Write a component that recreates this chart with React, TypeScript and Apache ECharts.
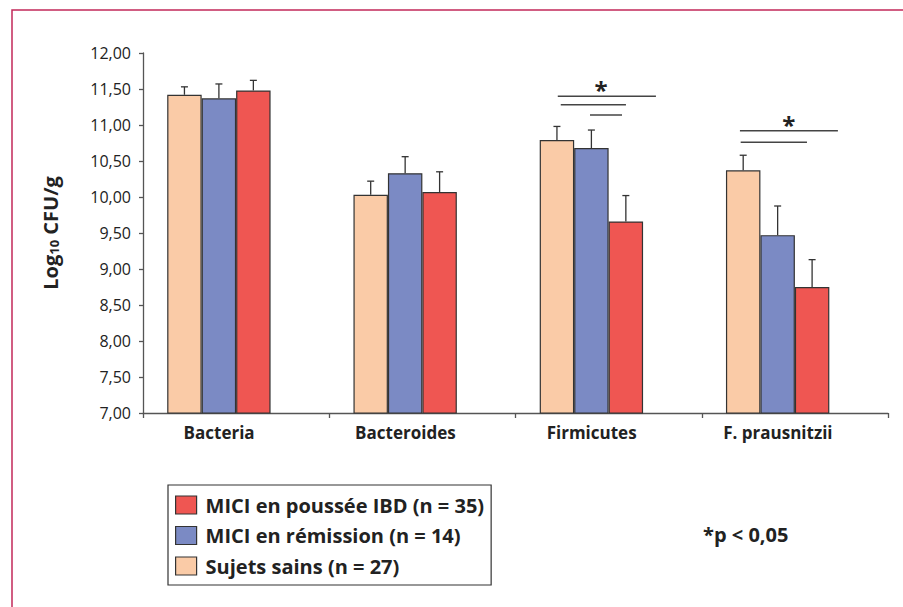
import React, { useEffect, useRef } from "react";
import * as echarts from "echarts";

const categories = ["Bacteria", "Bacteroides", "Firmicutes", "F. prausnitzii"];
const seriesNames = ["Sujets sains (n = 27)", "MICI en rémission (n = 14)", "MICI en poussée IBD (n = 35)"];
const legendOrder = ["MICI en poussée IBD (n = 35)", "MICI en rémission (n = 14)", "Sujets sains (n = 27)"];
const sainsMean = [11.42, 10.03, 10.79, 10.37];
const sainsUpper = [11.53, 10.22, 10.98, 10.58];
const remissionMean = [11.37, 10.33, 10.68, 9.47];
const remissionUpper = [11.57, 10.56, 10.93, 9.875];
const pousseeMean = [11.48, 10.07, 9.66, 8.75];
const pousseeUpper = [11.62, 10.35, 10.02, 9.13];
const yMin = 7;
const yMax = 12;
const yInterval = 0.5;
// significance brackets: [category index, y value, start (band fraction), end (band fraction)]
const sigLines = [
  [2, 11.4, -0.273, 0.254],
  [2, 11.28, -0.257, 0.093],
  [2, 11.14, -0.1, 0.072],
  [3, 10.92, -0.295, 0.231],
  [3, 10.76, -0.291, 0.065],
];
// stars: [category index, y value, x (band fraction)]
const sigStars = [
  [2, 11.56, -0.041],
  [3, 11.07, -0.033],
];
const pNote = "*p < 0,05";

const colors = ["#FACBA7", "#7B8AC4", "#EF5652"];
const FONT = "'Open Sans', 'Noto Sans', sans-serif";
const BAR_FRAC = 0.185;

export default function App() {
  const ref = useRef<HTMLDivElement>(null);
  useEffect(() => {
    document.body.style.margin = "0";
    const chart = echarts.init(ref.current!, null, { renderer: "svg" });
    const means = [sainsMean, remissionMean, pousseeMean];
    const uppers = [sainsUpper, remissionUpper, pousseeUpper];
    const errData: number[][] = [];
    means.forEach((m, s) => m.forEach((v, i) => errData.push([i, uppers[s][i], v, s])));

    const barSeries: any[] = seriesNames.map((name, s) => ({
      type: "bar",
      name,
      data: means[s],
      barWidth: BAR_FRAC * 100 + "%",
      barGap: "0%",
      itemStyle: { color: colors[s], borderColor: "#333", borderWidth: 1.2 },
      z: 2,
    }));
    barSeries.push({
      type: "bar",
      name: "_pad",
      data: categories.map(() => "-"),
      barWidth: BAR_FRAC * 100 + "%",
      barGap: "0%",
    });

    chart.setOption({
      animation: false,
      grid: { left: 143, top: 53, right: 15, bottom: 194, containLabel: false },
      legend: {
        data: legendOrder,
        orient: "vertical",
        left: 168,
        top: 485,
        padding: [10, 7, 9, 7],
        borderColor: "#333",
        borderWidth: 1.2,
        itemWidth: 21,
        itemHeight: 18,
        itemGap: 10.5,
        icon: "rect",
        selectedMode: false,
        itemStyle: { borderColor: "#333", borderWidth: 1.2 },
        textStyle: { fontFamily: FONT, fontSize: 20, fontWeight: "bold", color: "#222", padding: [0, 0, 0, 4] },
      },
      xAxis: {
        type: "category",
        data: categories,
        axisLine: { lineStyle: { color: "#555", width: 1.3 } },
        axisTick: { show: true, length: 5, lineStyle: { color: "#555", width: 1.3 } },
        axisLabel: {
          fontFamily: FONT,
          fontSize: 17,
          fontWeight: "bold",
          color: "#222",
          margin: 11,
          padding: [0, 34, 0, 0],
        },
      },
      yAxis: {
        type: "value",
        min: yMin,
        max: yMax,
        interval: yInterval,
        name: "{b|Log}{s|10}{b| CFU/g}",
        nameLocation: "middle",
        nameRotate: 90,
        nameGap: 83,
        nameTextStyle: {
          rich: {
            b: { fontFamily: FONT, fontSize: 20, fontWeight: "bold", color: "#222", verticalAlign: "bottom" },
            s: { fontFamily: FONT, fontSize: 13, fontWeight: "bold", color: "#222", verticalAlign: "bottom", padding: [8, 0, 0, 0] },
          },
        },
        axisLine: { show: true, lineStyle: { color: "#555", width: 1.3 } },
        axisTick: { show: true, length: 4, lineStyle: { color: "#555", width: 1.3 } },
        splitLine: { show: false },
        axisLabel: {
          fontFamily: FONT,
          fontSize: 16,
          color: "#222",
          margin: 12,
          formatter: (v: number) => v.toFixed(2).replace(".", ","),
        },
      },
      graphic: [
        {
          type: "polyline",
          shape: { points: [[12, 612], [12, 10], [910, 10]] },
          style: { stroke: "#c2285a", lineWidth: 1.5, fill: "none" },
        },
        {
          type: "text",
          x: 703,
          y: 534,
          style: { text: pNote, fontFamily: FONT, fontSize: 20, fontWeight: "bold", fill: "#222", verticalAlign: "middle" },
        },
      ],
      series: [
        ...barSeries,
        {
          type: "custom",
          name: "err",
          data: errData,
          encode: { x: 0, y: 1 },
          z: 3,
          renderItem: (params: any, api: any) => {
            const band = api.size([1, 0])[0];
            const bw = band * BAR_FRAC;
            const s = api.value(3);
            const top = api.coord([api.value(0), api.value(1)]);
            const base = api.coord([api.value(0), api.value(2)]);
            const x = top[0] + (s - 1.5) * bw;
            const st = { stroke: "#333", lineWidth: 1.3 };
            return {
              type: "group",
              children: [
                { type: "line", shape: { x1: x, y1: base[1], x2: x, y2: top[1] }, style: st },
                { type: "line", shape: { x1: x - 3.5, y1: top[1], x2: x + 3.5, y2: top[1] }, style: st },
              ],
            };
          },
        },
        {
          type: "custom",
          name: "sig",
          data: sigLines,
          encode: { x: 0, y: 1 },
          z: 3,
          renderItem: (params: any, api: any) => {
            const band = api.size([1, 0])[0];
            const c = api.coord([api.value(0), api.value(1)]);
            return {
              type: "line",
              shape: { x1: c[0] + api.value(2) * band, y1: c[1], x2: c[0] + api.value(3) * band, y2: c[1] },
              style: { stroke: "#444", lineWidth: 1.5 },
            };
          },
        },
        {
          type: "custom",
          name: "stars",
          data: sigStars,
          encode: { x: 0, y: 1 },
          z: 3,
          renderItem: (params: any, api: any) => {
            const band = api.size([1, 0])[0];
            const c = api.coord([api.value(0), api.value(1)]);
            return {
              type: "text",
              x: c[0] + api.value(2) * band,
              y: c[1] + 5,
              style: {
                text: "*",
                fontFamily: FONT,
                fontSize: 24,
                fontWeight: "bold",
                fill: "#222",
                align: "center",
                verticalAlign: "middle",
              },
            };
          },
        },
      ],
    });
    return () => chart.dispose();
  }, []);
  return <div ref={ref} style={{ position: "absolute", left: 0, top: 0, width: 903, height: 607 }} />;
}
